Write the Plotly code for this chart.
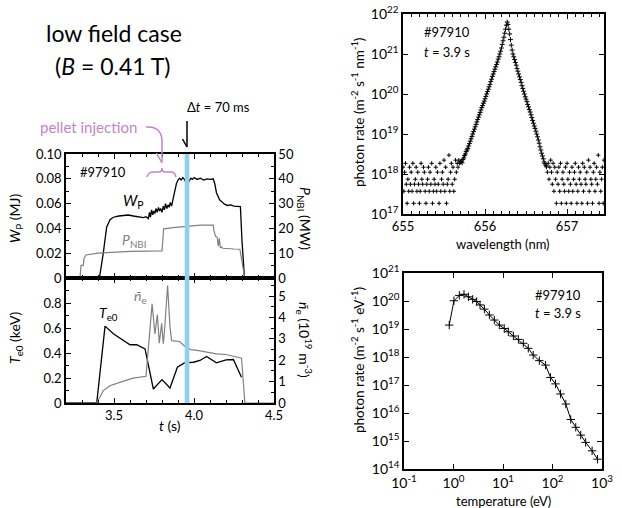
import plotly.graph_objects as go

W, H = 622, 508
FONT = "Lato"
PURPLE = "#bf85c8"
GREY = "#808080"
BLUE = "#8fd0f2"

# ---------------- time traces, shot #97910 ----------------
wp_t = [3.20, 3.41, 3.433, 3.454, 3.475, 3.496, 3.53, 3.559, 3.59, 3.621, 3.65, 3.684, 3.70, 3.715,
        3.722, 3.728, 3.735, 3.742, 3.748, 3.755, 3.762, 3.77, 3.778, 3.785, 3.792, 3.80, 3.808,
        3.815, 3.822, 3.83, 3.838, 3.845, 3.852, 3.86, 3.868, 3.879, 3.89, 3.90, 3.91, 3.92, 3.93,
        3.94, 3.95, 3.96, 3.97, 3.98, 3.99, 4.00, 4.02, 4.04, 4.06, 4.08, 4.10, 4.12, 4.13, 4.14,
        4.15, 4.16, 4.17, 4.19, 4.21, 4.23, 4.25, 4.27, 4.29, 4.30, 4.315, 4.33, 4.50]
wp_mj = [0.0005, 0.001, 0.020, 0.041, 0.047, 0.049, 0.050, 0.0505, 0.0508, 0.050, 0.0495, 0.0487, 0.0495, 0.048,
         0.053, 0.049, 0.055, 0.051, 0.054, 0.052, 0.056, 0.053, 0.057, 0.054, 0.056, 0.053, 0.058,
         0.055, 0.060, 0.056, 0.059, 0.057, 0.061, 0.058, 0.063, 0.071, 0.076, 0.079, 0.0805, 0.079, 0.081,
         0.0795, 0.077, 0.076, 0.079, 0.0805, 0.0795, 0.081, 0.0795, 0.0805, 0.079, 0.080, 0.0795, 0.080, 0.076, 0.069,
         0.066, 0.063, 0.062, 0.0595, 0.0585, 0.059, 0.058, 0.058, 0.0575, 0.030, 0.001, 0.0005, 0.0005]

pnbi_t = [3.20, 3.2875, 3.294, 3.308, 3.313, 3.325, 3.40, 3.50, 3.60, 3.70, 3.80, 3.805, 3.81, 3.87,
          3.95, 4.04, 4.12, 4.125, 4.135, 4.145, 4.152, 4.158, 4.165, 4.172, 4.18, 4.21, 4.25, 4.287,
          4.317, 4.50]
pnbi_mw = [0, 0, 5.1, 5.1, 8.0, 9.3, 10.0, 10.5, 10.7, 10.8, 10.9, 15.0, 19.8, 20.3,
           20.8, 21.3, 21.3, 19.0, 16.8, 16.5, 12.8, 16.0, 12.3, 12.5, 12.0, 11.8, 11.7, 11.6,
           0, 0]

te_t = [3.20, 3.392, 3.444, 3.496, 3.60, 3.642, 3.694, 3.746, 3.80, 3.85, 3.896, 3.94, 3.996,
        4.037, 4.079, 4.14, 4.20, 4.246, 4.297]
te_kev = [0, 0, 0.615, 0.554, 0.466, 0.466, 0.433, 0.112, 0.187, 0.120, 0.286, 0.321, 0.326,
          0.340, 0.372, 0.321, 0.345, 0.348, 0.206]

ne_t = [3.20, 3.392, 3.433, 3.475, 3.55, 3.62, 3.70, 3.717, 3.738, 3.756, 3.771, 3.783, 3.798,
        3.808, 3.815, 3.835, 3.85, 3.86, 3.91, 3.95, 3.98, 4.03, 4.08, 4.14, 4.20, 4.25, 4.297,
        4.318, 4.50]
ne_1e19 = [0, 0, 0.58, 0.81, 1.00, 1.16, 1.25, 2.60, 4.64, 3.23, 4.14, 2.80, 3.73,
           2.77, 3.31, 5.50, 3.55, 2.92, 2.88, 2.60, 2.50, 2.45, 2.38, 2.30, 2.27, 2.20, 2.10,
           0, 0]

t_tick_vals = [3.5, 4.0, 4.5]
t_tick_text = ["3.5", "4.0", "4.5"]
wp_ticks = [0, 0.02, 0.04, 0.06, 0.08, 0.10]
wp_tick_text = ["0", "0.02", "0.04", "0.06", "0.08", "0.10"]
pnbi_ticks = [0, 10, 20, 30, 40, 50]
te_ticks = [0, 0.2, 0.4, 0.6, 0.8]
te_tick_text = ["0", "0.2", "0.4", "0.6", "0.8"]
ne_ticks = [0, 1, 2, 3, 4, 5]

t_window = (3.942, 3.971)   # analysed time slice (t = 3.9 s, 70 ms)

# ---------------- H-alpha spectrum at t = 3.9 s ----------------
# line core: wavelength (nm) and log10 of photon rate
wl_core = [655.70, 655.71, 655.72, 655.73, 655.74, 655.75, 655.76, 655.77, 655.78, 655.79,
           655.80, 655.81, 655.82, 655.83, 655.84, 655.85, 655.86, 655.87, 655.88, 655.89,
           655.90, 655.91, 655.92, 655.93, 655.94, 655.95, 655.96, 655.97, 655.98, 655.99,
           656.00, 656.01, 656.02, 656.03, 656.04, 656.05, 656.06, 656.07, 656.08, 656.09,
           656.10, 656.11, 656.12, 656.13, 656.14, 656.15, 656.16, 656.17, 656.18, 656.19,
           656.20, 656.21, 656.22, 656.23, 656.24, 656.25, 656.26, 656.27, 656.28, 656.29,
           656.30, 656.31, 656.32, 656.33, 656.34, 656.35, 656.36, 656.37, 656.38, 656.39,
           656.40, 656.41, 656.42, 656.43, 656.44, 656.45, 656.46, 656.47, 656.48, 656.49,
           656.50, 656.51, 656.52, 656.53, 656.54, 656.55, 656.56, 656.57, 656.58, 656.59,
           656.60, 656.61, 656.62, 656.63, 656.64, 656.65, 656.66, 656.67, 656.68, 656.69,
           656.70, 656.71, 656.72, 656.73, 656.74, 656.75]
log_core = [18.30, 18.32, 18.28, 18.36, 18.40, 18.46, 18.50, 18.56, 18.60, 18.64,
            18.70, 18.76, 18.82, 18.88, 18.94, 19.00, 19.06, 19.12, 19.18, 19.24,
            19.30, 19.36, 19.42, 19.48, 19.54, 19.60, 19.66, 19.71, 19.77, 19.82,
            19.88, 19.94, 20.00, 20.06, 20.12, 20.18, 20.24, 20.31, 20.37, 20.44,
            20.50, 20.56, 20.62, 20.68, 20.74, 20.80, 20.87, 20.93, 21.00, 21.07,
            21.15, 21.24, 21.33, 21.42, 21.52, 21.62, 21.72, 21.80, 21.74, 21.62,
            21.50, 21.36, 21.22, 21.10, 21.00, 20.93, 20.86, 20.79, 20.72, 20.64,
            20.57, 20.50, 20.43, 20.36, 20.29, 20.21, 20.14, 20.07, 20.00, 19.93,
            19.87, 19.81, 19.74, 19.68, 19.61, 19.55, 19.48, 19.41, 19.34, 19.27,
            19.20, 19.14, 19.07, 19.00, 18.93, 18.85, 18.77, 18.68, 18.60, 18.52,
            18.45, 18.38, 18.30, 18.26, 18.22, 18.18]

# background: detector counts (1 count = 1.85e17 m^-2 s^-1 nm^-1)
count_rate = 1.85e17
wl_bg_left = [655.00, 655.01, 655.02, 655.03, 655.04, 655.05, 655.06, 655.07, 655.08, 655.09,
              655.10, 655.11, 655.12, 655.13, 655.14, 655.15, 655.16, 655.17, 655.18, 655.19,
              655.20, 655.21, 655.22, 655.23, 655.24, 655.25, 655.26, 655.27, 655.28, 655.29,
              655.30, 655.31, 655.32, 655.33, 655.34, 655.35, 655.36, 655.37, 655.38, 655.39,
              655.40, 655.41, 655.42, 655.43, 655.44, 655.45, 655.46, 655.47, 655.48, 655.49,
              655.50, 655.51, 655.52, 655.53, 655.54, 655.55, 655.56, 655.57, 655.58, 655.59,
              655.60, 655.61, 655.62, 655.63, 655.64, 655.65, 655.66, 655.67, 655.68, 655.69]
counts_bg_left = [8, 2, 6, 10, 3, 1, 4, 2, 8, 3,
                  6, 2, 10, 1, 3, 4, 8, 2, 6, 3,
                  1, 2, 10, 4, 3, 8, 6, 2, 1, 3,
                  4, 8, 2, 6, 3, 10, 1, 2, 4, 3,
                  8, 2, 6, 3, 1, 10, 2, 4, 6, 3,
                  12, 2, 8, 1, 3, 4, 16, 2, 6, 10,
                  3, 8, 2, 4, 12, 6, 10, 8, 12, 10]
wl_bg_right = [656.76, 656.77, 656.78, 656.79, 656.80, 656.81, 656.82, 656.83, 656.84, 656.85,
               656.86, 656.87, 656.88, 656.89, 656.90, 656.91, 656.92, 656.93, 656.94, 656.95,
               656.96, 656.97, 656.98, 656.99, 657.00, 657.01, 657.02, 657.03, 657.04, 657.05,
               657.06, 657.07, 657.08, 657.09, 657.10, 657.11, 657.12, 657.13, 657.14, 657.15,
               657.16, 657.17, 657.18, 657.19, 657.20, 657.21, 657.22, 657.23, 657.24, 657.25,
               657.26, 657.27, 657.28, 657.29, 657.30, 657.31, 657.32, 657.33, 657.34, 657.35,
               657.36, 657.37, 657.38, 657.39, 657.40, 657.41, 657.42, 657.43, 657.44, 657.45]
counts_bg_right = [6, 10, 4, 8, 12, 6, 3, 10, 2, 8,
                   4, 1, 6, 3, 8, 2, 10, 1, 4, 6,
                   3, 2, 8, 1, 10, 4, 2, 6, 3, 1,
                   8, 2, 4, 6, 10, 3, 1, 2, 8, 4,
                   6, 3, 1, 10, 2, 8, 4, 3, 6, 1,
                   12, 2, 8, 4, 3, 1, 6, 10, 2, 4,
                   8, 3, 16, 1, 6, 2, 4, 8, 1, 12]

# ---------------- electron-temperature distribution ----------------
temp_ev = [0.82, 1.02, 1.31, 1.63, 2.0, 2.44, 2.94, 3.43, 4.2, 5.3, 6.68, 8.43, 10.6, 12.8,
           16.2, 20.4, 25.7, 32.4, 40.7, 54.2, 72.4, 91.2, 115, 145, 186, 234, 295, 372,
           468, 631, 813]
log_rate_ev = [19.14, 20.01, 20.20, 20.24, 20.15, 20.06, 19.98, 19.86, 19.71, 19.50, 19.32,
               19.14, 19.02, 18.90, 18.75, 18.63, 18.49, 18.31, 18.07, 17.87, 17.71, 17.27,
               17.04, 16.68, 16.32, 15.77, 15.49, 15.21, 14.95, 14.65, 14.35]

spec_decades = [17, 18, 19, 20, 21, 22]
temp_decades = [-1, 0, 1, 2, 3]
rate_decades = [14, 15, 16, 17, 18, 19, 20, 21]


def pow10_ticks(exps):
    return [10.0 ** e for e in exps], [f"10<sup>{e}</sup>" for e in exps]


def px(x):
    return x / W


def py(y):
    return 1 - y / H


def path(cmds):
    """Build an SVG path in paper coordinates from (cmd, [x, y, ...]) in pixels."""
    out = []
    for c, pts in cmds:
        coords = []
        for i in range(0, len(pts), 2):
            coords.append(f"{px(pts[i]):.5f},{py(pts[i + 1]):.5f}")
        out.append(c + " " + " ".join(coords))
    return " ".join(out)


fig = go.Figure()

# top-left: stored energy and NBI power
fig.add_trace(go.Scatter(x=wp_t, y=wp_mj, mode="lines", line=dict(color="black", width=1.3),
                         xaxis="x", yaxis="y"))
fig.add_trace(go.Scatter(x=pnbi_t, y=pnbi_mw, mode="lines", line=dict(color=GREY, width=1.2),
                         xaxis="x", yaxis="y2"))
# bottom-left: central Te and line-averaged density
fig.add_trace(go.Scatter(x=te_t, y=te_kev, mode="lines", line=dict(color="black", width=1.3),
                         xaxis="x2", yaxis="y3"))
fig.add_trace(go.Scatter(x=ne_t, y=ne_1e19, mode="lines", line=dict(color=GREY, width=1.2),
                         xaxis="x2", yaxis="y4"))

# top-right: spectrum
spec_marker = dict(symbol="cross-thin", size=3, color="black", line=dict(color="black", width=1))
fig.add_trace(go.Scatter(x=wl_core, y=[10 ** v for v in log_core], mode="markers",
                         marker=dict(spec_marker, size=3.5), xaxis="x3", yaxis="y5"))
fig.add_trace(go.Scatter(x=wl_bg_left + wl_bg_right,
                         y=[c * count_rate for c in counts_bg_left + counts_bg_right],
                         mode="markers", marker=spec_marker, xaxis="x3", yaxis="y5"))

# bottom-right: temperature distribution
fig.add_trace(go.Scatter(x=temp_ev, y=[10 ** v for v in log_rate_ev], mode="lines+markers",
                         line=dict(color="black", width=1),
                         marker=dict(symbol="cross-thin", size=6, color="black",
                                     line=dict(color="black", width=1)),
                         xaxis="x4", yaxis="y6"))

tick_font = dict(family=FONT, size=13, color="black")
common = dict(showline=True, linecolor="black", linewidth=1.5, ticks="inside", tickcolor="black",
              tickwidth=1, ticklen=5, showgrid=False, zeroline=False, tickfont=tick_font,
              automargin=False)
log_font = dict(family=FONT, size=14, color="black")

sv, st = pow10_ticks(spec_decades)
tv, tt = pow10_ticks(temp_decades)
rv, rt = pow10_ticks(rate_decades)

left_dom_x = [px(66), px(274)]
fig.update_layout(
    template="none",
    width=W, height=H, margin=dict(l=0, r=0, t=0, b=0, pad=0),
    paper_bgcolor="white", plot_bgcolor="rgba(0,0,0,0)", showlegend=False,
    font=dict(family=FONT, size=13, color="black"),
    xaxis=dict(**common, domain=left_dom_x, anchor="y", range=[3.2, 4.5], mirror="ticks",
               tickvals=t_tick_vals, showticklabels=False,
               minor=dict(ticks="inside", ticklen=3, dtick=0.1, tick0=3.2, tickcolor="black")),
    yaxis=dict(**common, domain=[py(278), py(154)], anchor="x", range=[0, 0.1],
               tickvals=wp_ticks, ticktext=wp_tick_text,
               minor=dict(ticks="inside", ticklen=3, dtick=0.01, tick0=0, tickcolor="black")),
    yaxis2=dict(**common, overlaying="y", side="right", anchor="x", range=[0, 50],
                tickvals=pnbi_ticks,
                minor=dict(ticks="inside", ticklen=3, dtick=5, tick0=0, tickcolor="black")),
    xaxis2=dict(**common, domain=left_dom_x, anchor="y3", range=[3.2, 4.5], mirror="ticks",
                tickvals=t_tick_vals, ticktext=t_tick_text,
                minor=dict(ticks="inside", ticklen=3, dtick=0.1, tick0=3.2, tickcolor="black")),
    yaxis3=dict(**common, domain=[py(403), py(278)], anchor="x2", range=[0, 1.0],
                tickvals=te_ticks, ticktext=te_tick_text,
                minor=dict(ticks="inside", ticklen=3, dtick=0.1, tick0=0, tickcolor="black")),
    yaxis4=dict(**common, overlaying="y3", side="right", anchor="x2", range=[0, 5.85],
                tickvals=ne_ticks,
                minor=dict(ticks="inside", ticklen=3, dtick=0.5, tick0=0, tickcolor="black")),
    xaxis3=dict(**common, domain=[px(403), px(604)], anchor="y5", range=[655, 657.45],
                mirror="ticks", tickvals=[655, 656, 657],
                minor=dict(ticks="inside", ticklen=3, dtick=0.1, tick0=655, tickcolor="black")),
    yaxis5=dict(**common, domain=[py(214), py(14)], anchor="x3", type="log", range=[17, 22],
                mirror="ticks", tickvals=sv, ticktext=st),
    xaxis4=dict(**common, domain=[px(404), px(602)], anchor="y6", type="log", range=[-1, 3],
                mirror="ticks", tickvals=tv, ticktext=tt),
    yaxis6=dict(**common, domain=[py(469), py(273)], anchor="x4", type="log", range=[14, 21],
                mirror="ticks", tickvals=rv, ticktext=rt),
)
for ax in ("yaxis5", "xaxis4", "yaxis6"):
    fig.layout[ax].tickfont = log_font

shapes = [
    # analysed time slice
    dict(type="rect", xref="x", yref="paper", x0=t_window[0], x1=t_window[1],
         y0=py(403), y1=py(154), fillcolor=BLUE, line=dict(width=0), layer="above"),
    # black arrow under the delta-t label
    dict(type="path", xref="paper", yref="paper",
         path=path([("M", [187, 121]), ("L", [187, 147])]),
         line=dict(color="black", width=1.5)),
    dict(type="path", xref="paper", yref="paper",
         path=path([("M", [182.5, 139]), ("L", [187, 147, 191.5, 139])]),
         line=dict(color="black", width=1.5)),
    # pellet injection arrow and brace
    dict(type="path", xref="paper", yref="paper",
         path=path([("M", [146, 127]), ("Q", [161, 126, 162, 140]), ("L", [162, 162])]),
         line=dict(color=PURPLE, width=1.5)),
    dict(type="path", xref="paper", yref="paper",
         path=path([("M", [156.5, 153]), ("L", [162, 163, 167.5, 153])]),
         line=dict(color=PURPLE, width=1.5)),
    dict(type="path", xref="paper", yref="paper",
         path=path([("M", [147, 177]), ("Q", [148, 172, 154, 172]), ("L", [159, 172]),
                    ("Q", [162, 172, 162, 168]), ("Q", [162, 172, 165, 172]), ("L", [171, 172]),
                    ("Q", [175, 172, 176, 177])]),
         line=dict(color=PURPLE, width=1.5)),
]
fig.update_layout(shapes=shapes)


def label(text, x, y, size=13, color="black", angle=0, xanchor="center"):
    return dict(text=text, x=px(x), y=py(y), xref="paper", yref="paper", showarrow=False,
                xanchor=xanchor, yanchor="middle", textangle=angle,
                font=dict(family=FONT, size=size, color=color))


annotations = [
    label("low field case", 114, 33, size=23),
    label("(<i>B</i> = 0.41 T)", 113, 66, size=23),
    label("Δ<i>t</i> = 70 ms", 218, 107, size=13),
    label("pellet injection", 88, 127, size=15, color=PURPLE),
    label("#97910", 78, 172, size=13, xanchor="left"),
    label("<i>W</i><sub>P</sub>", 133, 201, size=15),
    label("<i>P</i><sub>NBI</sub>", 134, 240, size=14, color=GREY),
    label("<i>T</i><sub>e0</sub>", 108, 313, size=14),
    label("<i>n̄</i><sub>e</sub>", 140, 296, size=14, color=GREY),
    label("<i>W</i><sub>P</sub> (MJ)", 15, 218, size=14, angle=-90),
    label("<i>P</i><sub>NBI</sub> (MW)", 305, 218, size=14, angle=90),
    label("<i>T</i><sub>e0</sub> (keV)", 15, 338, size=14, angle=-90),
    label("<i>n̄</i><sub>e</sub> (10<sup>19</sup> m<sup>-3</sup>)", 305, 340, size=14, angle=90),
    label("<i>t</i> (s)", 170, 425, size=14),
    label("#97910", 422, 32, size=13, xanchor="left"),
    label("<i>t</i> = 3.9 s", 422, 52, size=13, xanchor="left"),
    label("photon rate (m<sup>-2</sup> s<sup>-1</sup> nm<sup>-1</sup>)", 358, 113, size=13.5, angle=-90),
    label("wavelength (nm)", 503, 244, size=13),
    label("#97910", 533, 295, size=13, xanchor="left"),
    label("<i>t</i> = 3.9 s", 533, 313, size=13, xanchor="left"),
    label("photon rate (m<sup>-2</sup> s<sup>-1</sup> eV<sup>-1</sup>)", 358, 360, size=13.5, angle=-90),
    label("temperature (eV)", 503, 501, size=13),
]
fig.update_layout(annotations=annotations)

fig.write_html("out.html")
